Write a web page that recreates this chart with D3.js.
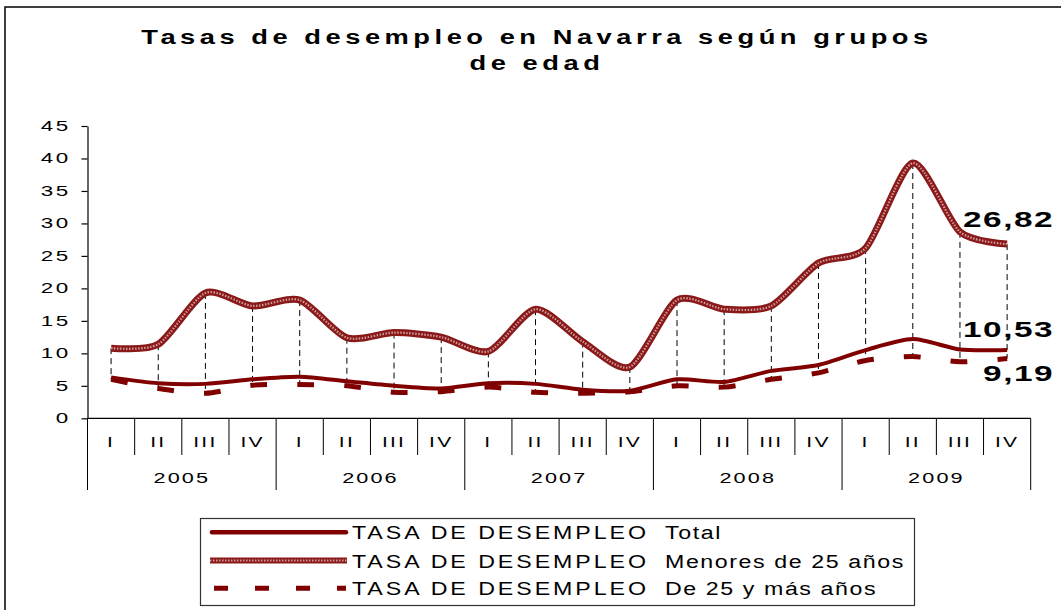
<!DOCTYPE html>
<html>
<head>
<meta charset="utf-8">
<script src="https://cdn.jsdelivr.net/npm/d3@7"></script>
<style>
  body { margin: 0; background: #fff; }
  svg { display: block; font-family: Arial, "Liberation Sans", sans-serif; }
</style>
</head>
<body>
<svg id="chart" width="1061" height="610"></svg>
<script>
// ***********************DATA**********************
const years = ["2005", "2006", "2007", "2008", "2009"]
const quarters = ["I", "II", "III", "IV"]

const total =   [6.3, 5.4, 5.3, 6.0, 6.4, 5.7, 5.0, 4.6, 5.4, 5.3, 4.4, 4.25, 6.0, 5.6, 7.3, 8.2, 10.5, 12.2, 10.6, 10.53]
const menores = [10.8, 11.4, 19.3, 17.3, 18.2, 12.4, 13.2, 12.5, 10.3, 16.8, 11.8, 7.9, 18.2, 16.8, 17.3, 23.9, 26.2, 39.3, 28.7, 26.82]
const mayores = [6.0, 4.6, 3.85, 5.1, 5.2, 5.0, 4.0, 4.1, 4.8, 4.0, 3.85, 4.1, 5.0, 4.8, 6.0, 7.0, 8.9, 9.5, 8.7, 9.19]

const yTicks = [0, 5, 10, 15, 20, 25, 30, 35, 40, 45]
const legendPrefix = "TASA DE DESEMPLEO"
const legendNames = ["Total", "Menores de 25 años", "De 25 y más años"]
const endLabels = ["26,82", "10,53", "9,19"]

// ***********************CHART**********************
const dark = "#800000"

let categories = []
years.forEach(function(y) {
  quarters.forEach(function(q) {
    categories.push(y + "-" + q)
  })
})

let svg = d3.select("#chart")

// outer frame (runs off the right and bottom edge)
svg.append("rect")
  .attr("x", 5)
  .attr("y", 7)
  .attr("width", 1080)
  .attr("height", 640)
  .attr("fill", "none")
  .attr("stroke", "#000")
  .attr("stroke-width", 1.5)

// title, glyphs a bit wide and letter spaced like the original
let stretch = 1.3
let title = svg.append("g")
  .attr("font-weight", "bold")
  .attr("font-size", 21)
  .attr("text-anchor", "middle")

let t1 = title.append("text")
  .attr("transform", "translate(537,44) scale(" + stretch + ",1)")
  .text("Tasas de desempleo en Navarra según grupos")
let t2 = title.append("text")
  .attr("transform", "translate(537,70) scale(" + stretch + ",1)")
  .text("de edad")

let rawW = t1.node().getComputedTextLength()
let n1 = t1.text().length
let spacing = (787 / stretch - rawW) / (n1 - 1)
t1.attr("letter-spacing", spacing)
t2.attr("letter-spacing", spacing)

let x = d3.scaleBand()
  .domain(categories)
  .range([87.5, 1030.7])
  .padding(0)

let y = d3.scaleLinear()
  .domain([0, 45])
  .range([418.3, 126])

let cx = function(i) { return x(categories[i]) + x.bandwidth() / 2 }

// y axis
let yAxis = d3.axisLeft(y)
  .tickValues(yTicks)
  .tickSize(6)
  .tickSizeOuter(0)

let yg = svg.append("g")
  .attr("transform", "translate(" + x.range()[0] + ",0)")
  .call(yAxis)

yg.select(".domain").attr("stroke", "#000").attr("stroke-width", 1.2)
yg.selectAll(".tick line").attr("stroke", "#000").attr("stroke-width", 1.2)
yg.selectAll(".tick text")
  .attr("x", null)
  .attr("fill", "#000")
  .attr("font-size", 14)
  .attr("font-family", "Arial, 'Liberation Sans', sans-serif")
  .attr("letter-spacing", 1.5)
  .attr("transform", "translate(-17,0) scale(1.6,1)")

// x axis base line
svg.append("line")
  .attr("x1", x.range()[0])
  .attr("x2", x.range()[1])
  .attr("y1", y(0))
  .attr("y2", y(0))
  .attr("stroke", "#000")
  .attr("stroke-width", 1.2)

// category dividers
let edges = categories.map(function(c) { return x(c) }).concat([x.range()[1]])
svg.append("g")
  .selectAll("line")
  .data(edges)
  .enter()
  .append("line")
  .attr("x1", function(d) { return d })
  .attr("x2", function(d) { return d })
  .attr("y1", y(0))
  .attr("y2", function(d, i) { return i % 4 === 0 ? 490 : 455 })
  .attr("stroke", "#000")
  .attr("stroke-width", 1)

// quarter labels
svg.append("g")
  .selectAll("text")
  .data(categories)
  .enter()
  .append("text")
  .attr("text-anchor", "middle")
  .attr("font-size", 14)
  .attr("letter-spacing", 1.5)
  .attr("transform", function(d) {
    return "translate(" + (x(d) + x.bandwidth() / 2) + ",446.5) scale(1.5,1)"
  })
  .text(function(d) { return d.split("-")[1] })

// year labels
svg.append("g")
  .selectAll("text")
  .data(years)
  .enter()
  .append("text")
  .attr("text-anchor", "middle")
  .attr("font-size", 15.5)
  .attr("letter-spacing", 1.5)
  .attr("transform", function(d) {
    let a = x(d + "-I"), b = x(d + "-IV") + x.bandwidth()
    return "translate(" + ((a + b) / 2) + ",483) scale(1.4,1)"
  })
  .text(function(d) { return d })

// high-low lines
svg.append("g")
  .selectAll("line")
  .data(categories)
  .enter()
  .append("line")
  .attr("x1", function(d, i) { return cx(i) })
  .attr("x2", function(d, i) { return cx(i) })
  .attr("y1", function(d, i) { return y(Math.max(total[i], menores[i], mayores[i])) })
  .attr("y2", function(d, i) { return y(Math.min(total[i], menores[i], mayores[i])) })
  .attr("stroke", "#000")
  .attr("stroke-width", 1)
  .attr("stroke-dasharray", "6,4")

let line = d3.line()
  .x(function(d, i) { return cx(i) })
  .y(function(d) { return y(d) })
  .curve(d3.curveCardinal.tension(0.25))

// Menores de 25 años: textured wide line
svg.append("path")
  .attr("d", line(menores))
  .attr("fill", "none")
  .attr("stroke", "#8a1a1a")
  .attr("stroke-width", 7)
svg.append("path")
  .attr("d", line(menores))
  .attr("fill", "none")
  .attr("stroke", "#d29a9a")
  .attr("stroke-width", 2.2)
  .attr("stroke-dasharray", "1.5,1.5")

// Total
svg.append("path")
  .attr("d", line(total))
  .attr("fill", "none")
  .attr("stroke", dark)
  .attr("stroke-width", 4)

// De 25 y más años
svg.append("path")
  .attr("d", line(mayores))
  .attr("fill", "none")
  .attr("stroke", dark)
  .attr("stroke-width", 5)
  .attr("stroke-dasharray", "17,30")

// end labels
let last = categories.length - 1
let endValues = [menores[last], total[last], mayores[last]]
let endOffsets = [-17, -13, 22]
svg.append("g")
  .selectAll("text")
  .data(endLabels)
  .enter()
  .append("text")
  .attr("text-anchor", "end")
  .attr("font-weight", "bold")
  .attr("font-size", 21.5)
  .attr("letter-spacing", 1)
  .attr("transform", function(d, i) {
    return "translate(" + (cx(last) + 47) + "," + (y(endValues[i]) + endOffsets[i]) + ") scale(1.55,1)"
  })
  .text(function(d) { return d })

// legend
let legend = svg.append("g")
legend.append("rect")
  .attr("x", 200.5)
  .attr("y", 518.5)
  .attr("width", 714)
  .attr("height", 87)
  .attr("fill", "#fff")
  .attr("stroke", "#333")
  .attr("stroke-width", 1.2)

let rowY = [532.3, 560.5, 588.3]
let sx0 = 212, sx1 = 346
let lstretch = 1.22

legend.append("line")
  .attr("x1", sx0).attr("x2", sx1)
  .attr("y1", rowY[0]).attr("y2", rowY[0])
  .attr("stroke", dark).attr("stroke-width", 4.5)
  .attr("stroke-linecap", "round")

legend.append("line")
  .attr("x1", sx0 - 2).attr("x2", sx1 + 1)
  .attr("y1", rowY[1]).attr("y2", rowY[1])
  .attr("stroke", "#8a1a1a").attr("stroke-width", 6)
legend.append("line")
  .attr("x1", sx0 - 2).attr("x2", sx1 + 1)
  .attr("y1", rowY[1]).attr("y2", rowY[1])
  .attr("stroke", "#d29a9a").attr("stroke-width", 2)
  .attr("stroke-dasharray", "1.5,1.5")

legend.append("line")
  .attr("x1", sx0 + 2).attr("x2", sx1)
  .attr("y1", rowY[2]).attr("y2", rowY[2])
  .attr("stroke", dark).attr("stroke-width", 5)
  .attr("stroke-dasharray", "14,27")

legend.selectAll("text.pre")
  .data(legendNames)
  .enter()
  .append("text")
  .attr("class", "pre")
  .attr("transform", function(d, i) { return "translate(352," + (rowY[i] + 7) + ") scale(" + lstretch + ",1)" })
  .attr("font-size", 19)
  .attr("textLength", 294 / lstretch)
  .attr("lengthAdjust", "spacing")
  .text(legendPrefix)

legend.selectAll("text.name")
  .data(legendNames)
  .enter()
  .append("text")
  .attr("class", "name")
  .attr("transform", function(d, i) { return "translate(665," + (rowY[i] + 7) + ") scale(" + lstretch + ",1)" })
  .attr("font-size", 19)
  .attr("letter-spacing", 1.3)
  .text(function(d) { return d })
</script>
</body>
</html>
